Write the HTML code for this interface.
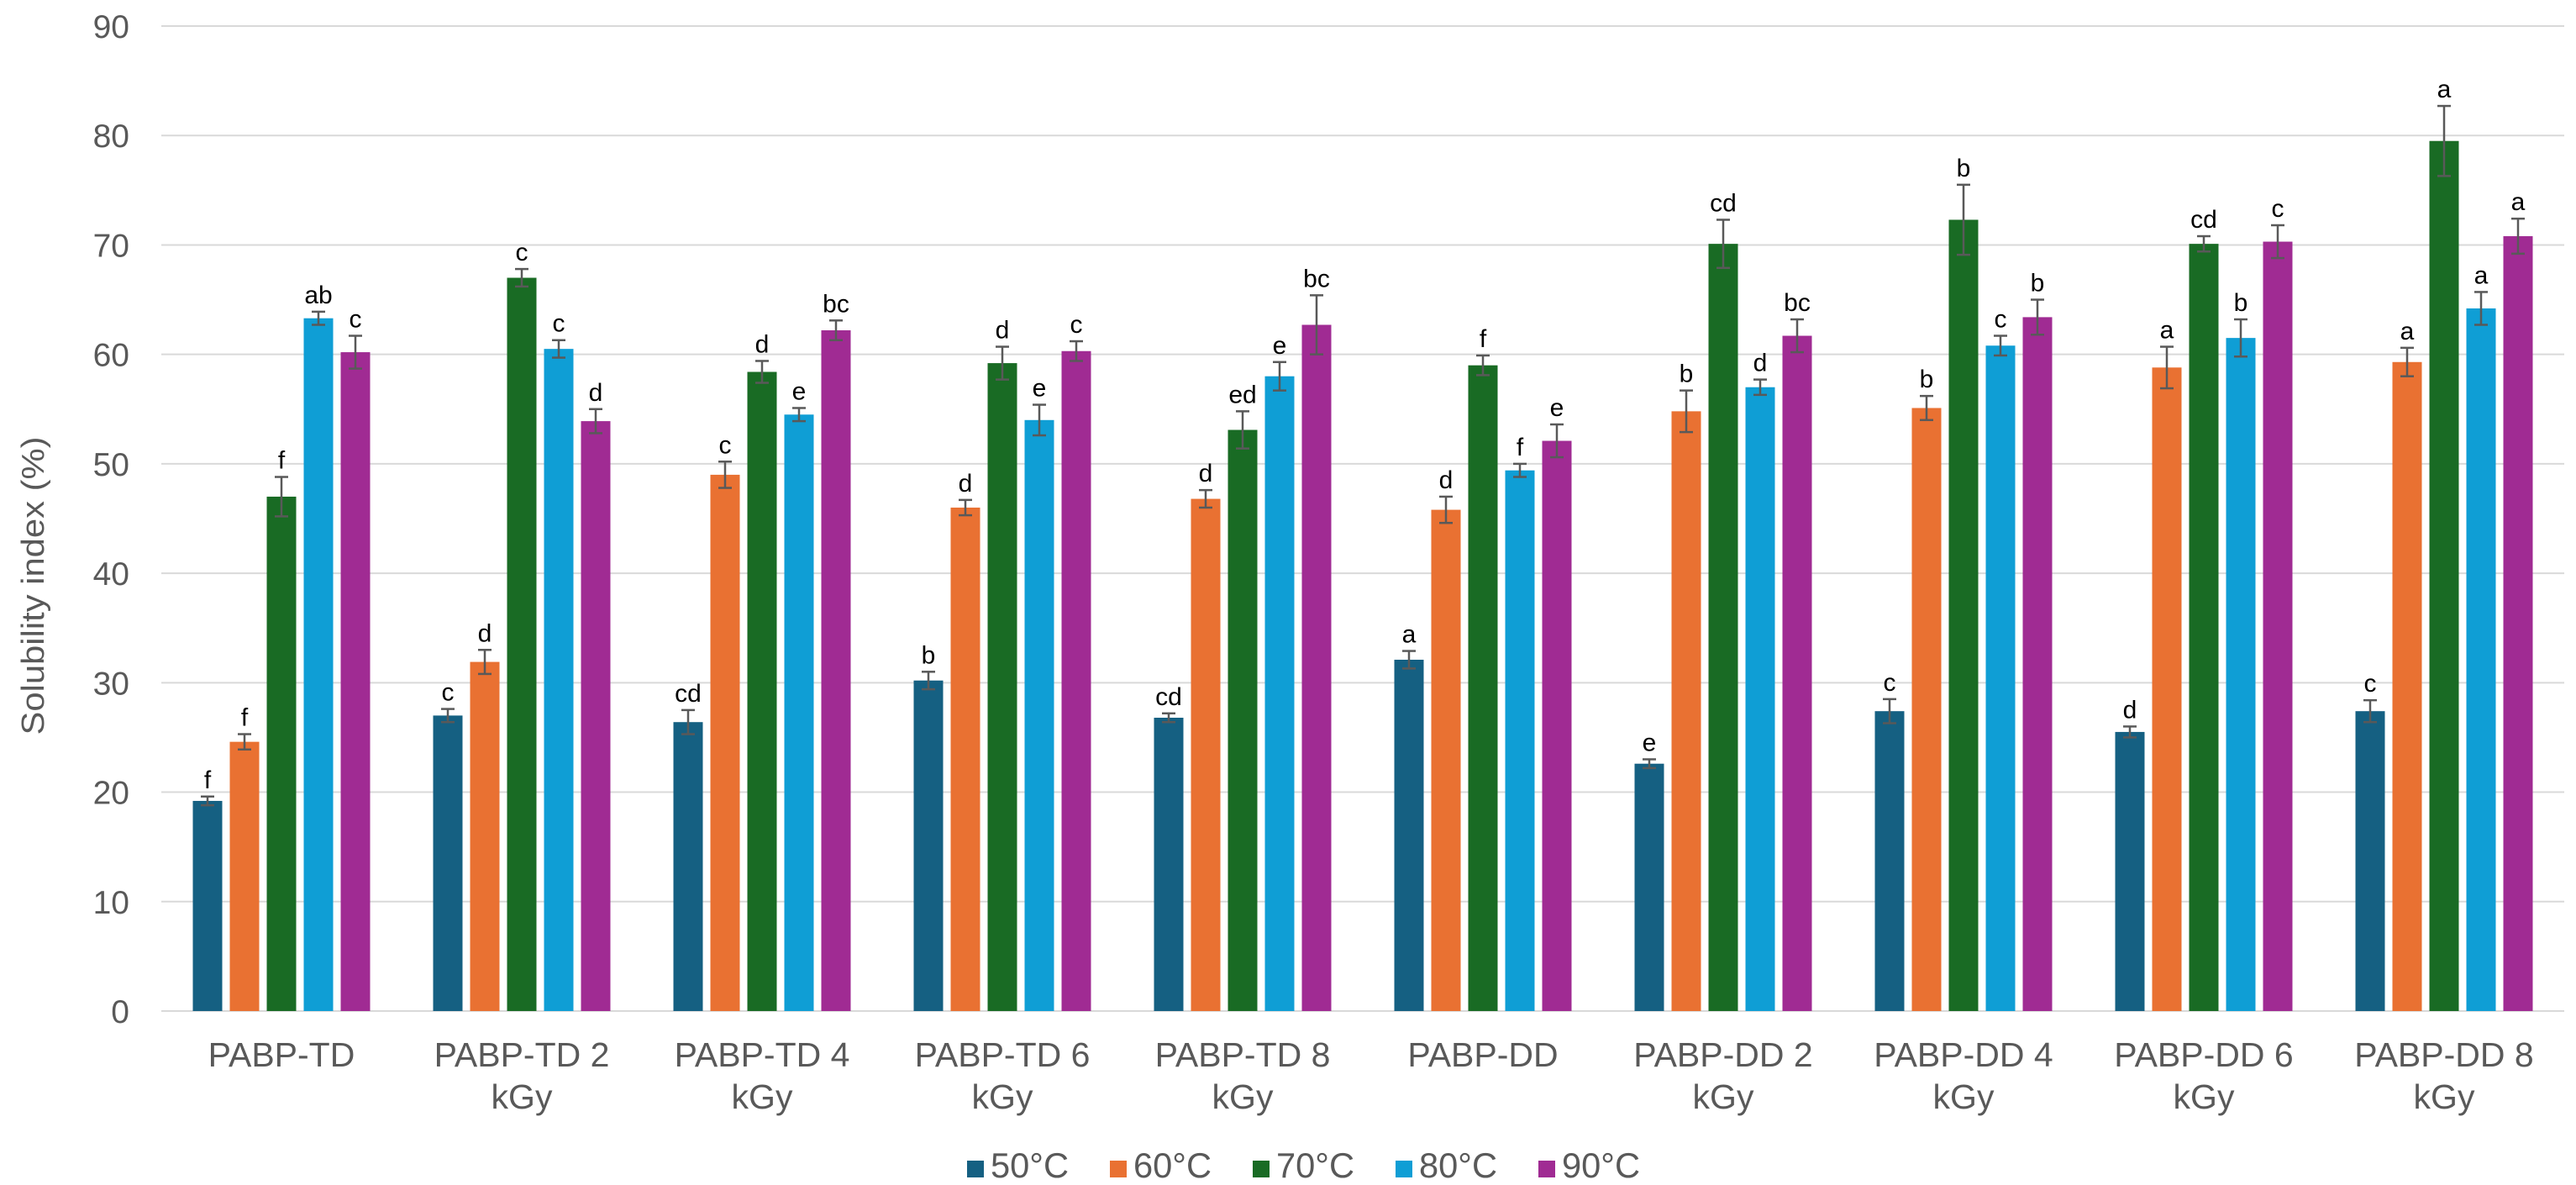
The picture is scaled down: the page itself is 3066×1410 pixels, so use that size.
<!DOCTYPE html>
<html><head><meta charset="utf-8"><style>
html,body{margin:0;padding:0;background:#fff;}
svg{display:block;font-family:"Liberation Sans",sans-serif;}
</style></head><body>
<svg id="chart" width="3066" height="1410" viewBox="0 0 3066 1410" xmlns="http://www.w3.org/2000/svg">
<text x="0" y="0" transform="translate(52,697) rotate(-90)" text-anchor="middle" font-size="38" fill="#595959" textLength="355" lengthAdjust="spacingAndGlyphs">Solubility index (%)</text>
<g id="grid"></g>
<g id="bars"></g>
<g id="xlabels"></g>
<g id="legend"></g>
</svg>
<script>
const categories = [["PABP-TD"],["PABP-TD 2","kGy"],["PABP-TD 4","kGy"],["PABP-TD 6","kGy"],["PABP-TD 8","kGy"],["PABP-DD"],["PABP-DD 2","kGy"],["PABP-DD 4","kGy"],["PABP-DD 6","kGy"],["PABP-DD 8","kGy"]];
const seriesNames = ["50°C","60°C","70°C","80°C","90°C"];
const s50 = [19.2,27.0,26.4,30.2,26.8,32.1,22.6,27.4,25.5,27.4];
const s60 = [24.6,31.9,49.0,46.0,46.8,45.8,54.8,55.1,58.8,59.3];
const s70 = [47.0,67.0,58.4,59.2,53.1,59.0,70.1,72.3,70.1,79.5];
const s80 = [63.3,60.5,54.5,54.0,58.0,49.4,57.0,60.8,61.5,64.2];
const s90 = [60.2,53.9,62.2,60.3,62.7,52.1,61.7,63.4,70.3,70.8];
const e50 = [0.4,0.6,1.1,0.8,0.4,0.8,0.4,1.1,0.5,1.0];
const e60 = [0.7,1.1,1.2,0.7,0.8,1.2,1.9,1.1,1.9,1.3];
const e70 = [1.8,0.8,1.0,1.5,1.7,0.9,2.2,3.2,0.7,3.2];
const e80 = [0.6,0.8,0.6,1.4,1.3,0.6,0.7,0.9,1.7,1.5];
const e90 = [1.5,1.1,0.9,0.9,2.7,1.5,1.5,1.6,1.5,1.6];
const l50 = ["f","c","cd","b","cd","a","e","c","d","c"];
const l60 = ["f","d","c","d","d","d","b","b","a","a"];
const l70 = ["f","c","d","d","ed","f","cd","b","cd","a"];
const l80 = ["ab","c","e","e","e","f","d","c","b","a"];
const l90 = ["c","d","bc","c","bc","e","bc","b","c","a"];
const yTicks = [0,10,20,30,40,50,60,70,80,90];

const series=[s50,s60,s70,s80,s90], errs=[e50,e60,e70,e80,e90], lets=[l50,l60,l70,l80,l90];
const colors=["#156082","#E97132","#196B24","#0F9ED5","#A02B93"];
const NS="http://www.w3.org/2000/svg";
const L=192,R=3052,T=31,B=1203,yMax=90;
const y=v=>B-(v/yMax)*(B-T);
const gw=(R-L)/categories.length;
const x=(i,s)=>L+gw*i+gw/2-105.5+s*44;
const bw=35;
function mk(tag,attrs,parent){const e=document.createElementNS(NS,tag);for(const k in attrs)e.setAttribute(k,attrs[k]);parent.appendChild(e);return e;}
const grid=document.getElementById('grid');
yTicks.forEach(t=>{
  const ln=mk('line',{x1:L,x2:R,y1:y(t),y2:y(t),stroke:'#d9d9d9','stroke-width':2},grid);
  
  
  const tx=mk('text',{x:154,y:y(t)+14,'text-anchor':'end','font-size':39,fill:'#595959'},grid);
  tx.textContent=t;
  
  
});
const bars=document.getElementById('bars');
series.forEach((sv,s)=>{
  sv.forEach((v,i)=>{
    const bx=x(i,s);
    const r=mk('rect',{x:bx,y:y(v),width:bw,height:B-y(v),fill:colors[s]},bars);
    
    
    const cx=bx+bw/2, e=errs[s][i];
    const g=mk('g',{stroke:'#595959','stroke-width':2.5},bars);
    
    
    mk('line',{x1:cx,x2:cx,y1:y(v+e),y2:y(v-e)},g);
    mk('line',{x1:cx-8,x2:cx+8,y1:y(v+e),y2:y(v+e)},g);
    mk('line',{x1:cx-8,x2:cx+8,y1:y(v-e),y2:y(v-e)},g);
    const t=mk('text',{x:cx,y:y(v+e)-10,'text-anchor':'middle','font-size':30,fill:'#000'},bars);
    t.textContent=lets[s][i];
    
    
  });
});
const xl=document.getElementById('xlabels');
categories.forEach((c,i)=>{
  c.forEach((line,k)=>{
    const t=mk('text',{x:L+gw*i+gw/2,y:1269+k*50,'text-anchor':'middle','font-size':41,fill:'#595959'},xl);
    t.textContent=line;
    
    
  });
});
const lg=document.getElementById('legend');
seriesNames.forEach((n,s)=>{
  const lx=1151+s*170;
  const g=mk('g',{},lg);
  
  
  mk('rect',{x:lx,y:1381,width:20,height:20,fill:colors[s]},g);
  const t=mk('text',{x:lx+28,y:1401,'font-size':42,fill:'#595959',textLength:93,lengthAdjust:'spacingAndGlyphs'},g);
  t.textContent=n;
});
</script>
</body></html>
